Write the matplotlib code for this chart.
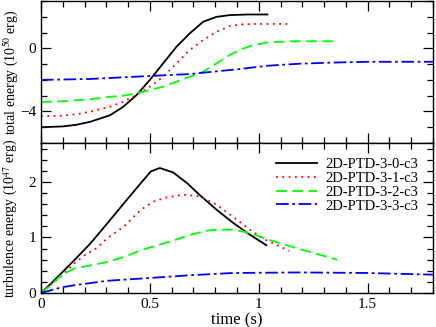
import numpy as np
import matplotlib
matplotlib.use("Agg")
import matplotlib.pyplot as plt
from matplotlib.ticker import MultipleLocator

plt.rcParams['font.family'] = ['Liberation Serif', 'DejaVu Serif']
plt.rcParams['mathtext.fontset'] = 'stix'

labels = ["2D-PTD-3-0-c3", "2D-PTD-3-1-c3", "2D-PTD-3-2-c3", "2D-PTD-3-3-c3"]

# total energy (10^50 erg)
tot_x0 = [0, 0.1, 0.16, 0.225, 0.317, 0.378, 0.439, 0.5, 0.561, 0.622, 0.683, 0.745, 0.806, 0.867, 0.95, 1.04]
tot_y0 = [-5.0, -4.95, -4.85, -4.66, -4.24, -3.70, -2.96, -2.0, -0.95, 0.1, 0.95, 1.69, 2.0, 2.11, 2.15, 2.15]
tot_x1 = [0, 0.1, 0.16, 0.225, 0.317, 0.378, 0.439, 0.5, 0.561, 0.622, 0.683, 0.745, 0.806, 0.867, 0.913, 0.98, 1.05, 1.14]
tot_y1 = [-4.3, -4.27, -4.18, -4.02, -3.70, -3.38, -2.96, -2.43, -1.8, -0.95, -0.1, 0.53, 1.05, 1.41, 1.52, 1.55, 1.55, 1.55]
tot_x2 = [0, 0.1, 0.225, 0.317, 0.378, 0.439, 0.5, 0.561, 0.622, 0.683, 0.745, 0.806, 0.867, 0.913, 0.96, 1.04, 1.15, 1.25, 1.36]
tot_y2 = [-3.4, -3.35, -3.23, -3.07, -3.0, -2.85, -2.64, -2.43, -2.11, -1.8, -1.48, -0.95, -0.42, -0.1, 0.15, 0.38, 0.45, 0.45, 0.45]
tot_x3 = [0, 0.225, 0.5, 0.683, 0.76, 0.913, 1.04, 1.19, 1.34, 1.5, 1.65, 1.8]
tot_y3 = [-2.0, -1.94, -1.75, -1.63, -1.52, -1.31, -1.1, -0.97, -0.9, -0.85, -0.85, -0.85]

# turbulence energy (10^47 erg)
tur_x0 = [0, 0.046, 0.092, 0.153, 0.229, 0.306, 0.382, 0.459, 0.505, 0.546, 0.607, 0.67, 0.73, 0.806, 0.883, 0.959, 1.035]
tur_y0 = [0, 0.17, 0.35, 0.59, 0.9, 1.26, 1.62, 1.98, 2.19, 2.25, 2.17, 1.98, 1.76, 1.5, 1.26, 1.05, 0.86]
tur_x1 = [0, 0.046, 0.092, 0.153, 0.2, 0.252, 0.306, 0.382, 0.459, 0.52, 0.576, 0.653, 0.73, 0.806, 0.883, 0.959, 1.035, 1.14]
tur_y1 = [0, 0.16, 0.3, 0.53, 0.68, 0.8, 0.99, 1.2, 1.5, 1.65, 1.72, 1.77, 1.74, 1.59, 1.37, 1.14, 0.95, 0.76]
tur_x2 = [0, 0.046, 0.092, 0.153, 0.229, 0.306, 0.382, 0.459, 0.535, 0.612, 0.688, 0.76, 0.806, 0.883, 0.959, 1.035, 1.188, 1.36]
tur_y2 = [0, 0.14, 0.32, 0.44, 0.5, 0.56, 0.65, 0.77, 0.86, 0.95, 1.05, 1.12, 1.14, 1.14, 1.08, 0.97, 0.79, 0.6]
tur_x3 = [0, 0.046, 0.092, 0.153, 0.306, 0.459, 0.688, 0.88, 1.19, 1.5, 1.8]
tur_y3 = [0, 0.05, 0.1, 0.14, 0.22, 0.26, 0.32, 0.36, 0.37, 0.36, 0.33]

colors = ["black", "#ff0000", "#00ff00", "#0000ff"]
styles = ["-", (0, (1, 2.5)), (0, (6, 3)), (0, (7, 2, 1.5, 2))]

fig = plt.figure(figsize=(4.36, 3.27), dpi=100)
ax1 = fig.add_axes([0.094, 0.5627, 0.899, 0.434])
ax2 = fig.add_axes([0.094, 0.104, 0.899, 0.4587])

tot = [(tot_x0, tot_y0), (tot_x1, tot_y1), (tot_x2, tot_y2), (tot_x3, tot_y3)]
tur = [(tur_x0, tur_y0), (tur_x1, tur_y1), (tur_x2, tur_y2), (tur_x3, tur_y3)]

for i in range(4):
    ax1.plot(tot[i][0], tot[i][1], color=colors[i], linestyle=styles[i], lw=1.3)
    ax2.plot(tur[i][0], tur[i][1], color=colors[i], linestyle=styles[i], lw=1.3, label=labels[i])

for ax in (ax1, ax2):
    ax.set_xlim(0, 1.8)
    ax.xaxis.set_major_locator(MultipleLocator(0.5))
    ax.xaxis.set_minor_locator(MultipleLocator(0.1))
    ax.tick_params(which='both', direction='in', top=True, right=True, labelsize=11)
    ax.tick_params(which='major', length=7, width=0.9)
    ax.tick_params(which='minor', length=4, width=0.9)
    for s in ax.spines.values():
        s.set_linewidth(1.0)

ax1.set_ylim(-6, 3)
ax1.yaxis.set_major_locator(MultipleLocator(4))
ax1.yaxis.set_minor_locator(MultipleLocator(1))
ax1.tick_params(labelbottom=False)
ax1.set_ylabel(r"total energy (10$^{50}$ erg)", fontsize=10)
ax1.yaxis.set_label_coords(-0.053, 0.5)

ax2.set_ylim(0, 2.7)
ax2.yaxis.set_major_locator(MultipleLocator(1))
ax2.yaxis.set_minor_locator(MultipleLocator(0.2))
ax2.set_ylabel(r"turbulence energy (10$^{47}$ erg)", fontsize=10)
ax2.yaxis.set_label_coords(-0.053, 0.5)
ax2.set_xlabel("time (s)", fontsize=12, labelpad=1)
ax2.set_xticks([0, 0.5, 1, 1.5])
ax2.set_xticklabels(["0", "0.5", "1", "1.5"])

ax2.legend(loc='upper right', frameon=False, fontsize=10.5, handlelength=2.8,
           labelspacing=0.05, borderaxespad=0.6, handletextpad=0.6)

fig.savefig("out.png", dpi=100)
